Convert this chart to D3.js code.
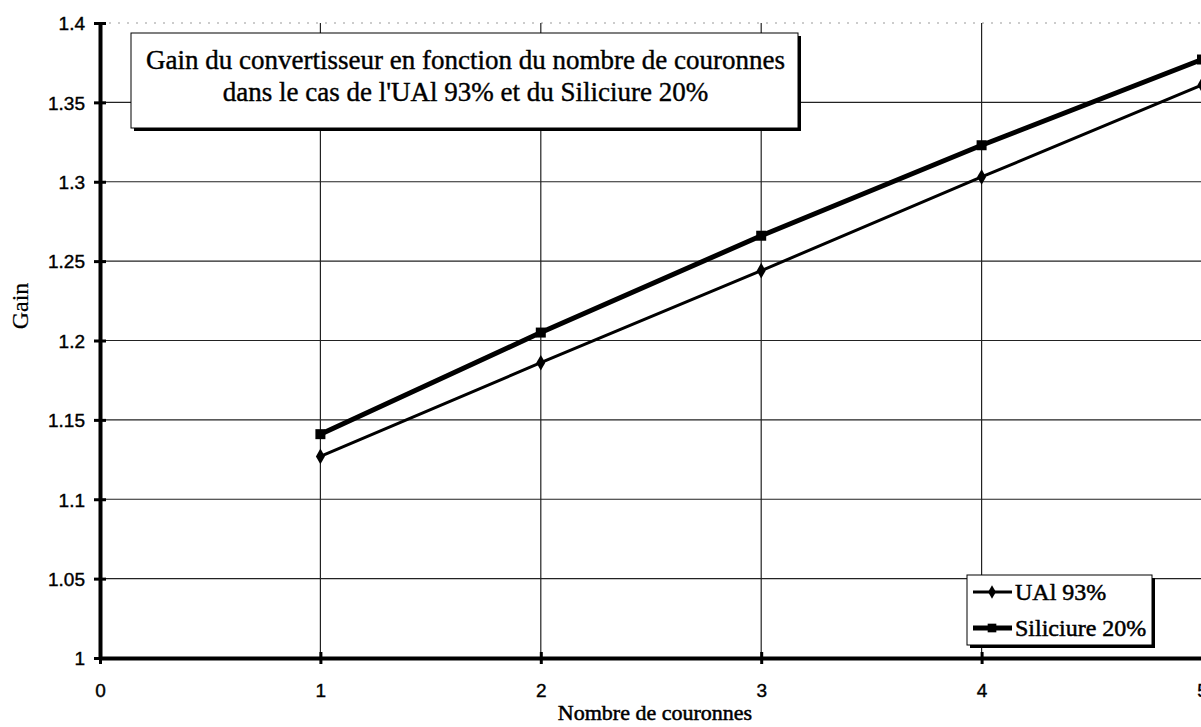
<!DOCTYPE html>
<html><head><meta charset="utf-8">
<script src="https://cdn.jsdelivr.net/npm/d3@7"></script>
<style>body{margin:0;background:#fff;}svg{display:block;}
.serif{font-family:"Liberation Serif","Times New Roman",serif;}
.sans{font-family:"Liberation Sans",Arial,sans-serif;}
</style>
</head><body>
<svg id="c" width="1201" height="727"></svg>
<script>
const xValues = [1, 2, 3, 4, 5];
const seriesNames = ["UAl 93%", "Siliciure 20%"];
const ual93 = [1.127, 1.186, 1.244, 1.303, 1.361];
const siliciure20 = [1.141, 1.205, 1.266, 1.323, 1.377];
const xTicks = [0, 1, 2, 3, 4, 5];
const yTicks = [1, 1.05, 1.1, 1.15, 1.2, 1.25, 1.3, 1.35, 1.4];
const titleLines = ["Gain du convertisseur en fonction du nombre de couronnes", "dans le cas de l'UAl 93% et du Siliciure 20%"];
const xLabel = "Nombre de couronnes";
const yLabel = "Gain";

const svg = d3.select("#c");
const L = 100, R = 1202, T = 23, B = 658;
const x = d3.scaleLinear().domain([0, 5]).range([L, R]);
const y = d3.scaleLinear().domain([1, 1.4]).range([B, T]);

// grid
const g = svg.append("g");
g.selectAll(".hg").data(yTicks.filter(d => d > 1)).join("line")
  .attr("x1", L).attr("x2", R).attr("y1", d => y(d)).attr("y2", d => y(d))
  .attr("stroke", d => d === 1.4 ? "#999" : "#222").attr("stroke-width", d => d === 1.4 ? 1 : 1.2)
  .attr("stroke-dasharray", d => d === 1.4 ? "2,7" : null);
g.selectAll(".vg").data(xTicks.filter(d => d > 0)).join("line")
  .attr("x1", d => x(d)).attr("x2", d => x(d)).attr("y1", T).attr("y2", B)
  .attr("stroke", "#222").attr("stroke-width", 1.2);

// axes
const yAxis = d3.axisLeft(y).tickValues(yTicks).tickSizeInner(6).tickSizeOuter(0).tickPadding(9)
  .tickFormat(d => String(+d.toFixed(2)));
const ya = svg.append("g").attr("transform", `translate(${L},0)`).call(yAxis);
ya.attr("font-family", null).attr("font-size", null);
ya.select(".domain").attr("stroke", "#000").attr("stroke-width", 4);
ya.selectAll(".tick line").attr("stroke", "#000").attr("stroke-width", 3).attr("x1", 6).attr("x2", -6);
ya.selectAll(".tick text").attr("class", "sans").attr("font-size", 19).attr("fill", "#000")
  .attr("stroke", "#000").attr("stroke-width", 0.4).attr("dy", "0.36em");

const xAxis = d3.axisBottom(x).tickValues(xTicks).tickSizeInner(6).tickSizeOuter(0)
  .tickFormat(d3.format("d"));
const xa = svg.append("g").attr("transform", `translate(0,${B})`).call(xAxis);
xa.attr("font-family", null).attr("font-size", null);
xa.select(".domain").attr("stroke", "#000").attr("stroke-width", 4);
xa.selectAll(".tick line").attr("stroke", "#000").attr("stroke-width", 3).attr("y1", -6).attr("y2", 6);
xa.selectAll(".tick text").attr("class", "sans").attr("font-size", 19).attr("fill", "#000")
  .attr("stroke", "#000").attr("stroke-width", 0.4).attr("y", 39).attr("dy", 0);

// series
const series = [
  {name: seriesNames[0], vals: ual93, w: 3, shape: d3.symbolDiamond, size: 70},
  {name: seriesNames[1], vals: siliciure20, w: 5, shape: d3.symbolSquare, size: 100}
];
const line = d3.line().x((d, i) => x(xValues[i])).y(d => y(d));
series.forEach(s => {
  svg.append("path").datum(s.vals).attr("d", line).attr("fill", "none")
    .attr("stroke", "#000").attr("stroke-width", s.w).attr("stroke-linejoin", "round");
  svg.selectAll(null).data(s.vals).join("path")
    .attr("transform", (d, i) => `translate(${x(xValues[i])},${y(d)})`)
    .attr("d", d3.symbol().type(s.shape).size(s.size)).attr("fill", "#000");
});

// title box
const tb = {x: 131, y: 33, w: 667, h: 95};
svg.append("rect").attr("x", tb.x + 3).attr("y", tb.y + 3).attr("width", tb.w).attr("height", tb.h).attr("fill", "#000");
svg.append("rect").attr("x", tb.x).attr("y", tb.y).attr("width", tb.w).attr("height", tb.h).attr("fill", "#fff").attr("stroke", "#000").attr("stroke-width", 1);
svg.append("g").selectAll("text").data(titleLines).join("text")
  .attr("class", "serif")
  .attr("x", tb.x + tb.w / 2 + 1).attr("y", (d, i) => 69 + i * 32)
  .attr("text-anchor", "middle")
  .attr("font-size", 27).attr("fill", "#000").attr("stroke", "#000").attr("stroke-width", 0.4).text(d => d);

// legend
const lb = {x: 967, y: 575, w: 185, h: 70};
svg.append("rect").attr("x", lb.x + 3).attr("y", lb.y + 3).attr("width", lb.w).attr("height", lb.h).attr("fill", "#000");
svg.append("rect").attr("x", lb.x).attr("y", lb.y).attr("width", lb.w).attr("height", lb.h).attr("fill", "#fff").attr("stroke", "#000").attr("stroke-width", 1);
series.forEach((s, i) => {
  const cy = 592 + i * 36;
  svg.append("line").attr("x1", 973).attr("x2", 1012).attr("y1", cy).attr("y2", cy).attr("stroke", "#000").attr("stroke-width", s.w);
  svg.append("path").attr("transform", `translate(992,${cy})`).attr("d", d3.symbol().type(s.shape).size(s.size * 0.75)).attr("fill", "#000");
  svg.append("text").attr("class", "serif").attr("x", 1015).attr("y", cy + 8)
    .attr("font-size", 24).attr("fill", "#000").attr("stroke", "#000").attr("stroke-width", 0.5).text(s.name);
});

// axis titles
svg.append("text").attr("class", "serif").attr("x", 655).attr("y", 720).attr("text-anchor", "middle")
  .attr("font-size", 22).attr("fill", "#000").attr("stroke", "#000").attr("stroke-width", 0.5).text(xLabel);
svg.append("text").attr("class", "serif").attr("transform", "translate(28,306) rotate(-90)").attr("text-anchor", "middle")
  .attr("font-size", 24).attr("fill", "#000").attr("stroke", "#000").attr("stroke-width", 0.2).text(yLabel);
</script>
</body></html>
